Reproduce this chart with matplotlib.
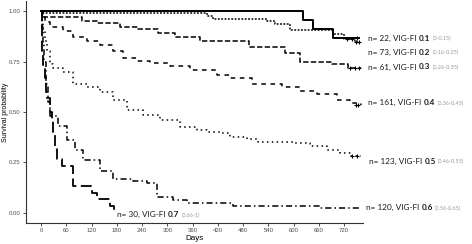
import matplotlib
matplotlib.use("Agg")
import matplotlib.pyplot as plt
from matplotlib.transforms import offset_copy

# ---- data ----
t_01 = [0, 623, 647, 694, 755]
s_01 = [1.0, 0.955, 0.91, 0.866, 0.866]

t_02 = [0, 5, 395, 408, 537, 556, 592, 694, 720, 745, 758]
s_02 = [1.0, 0.99, 0.975, 0.96, 0.95, 0.935, 0.905, 0.885, 0.86, 0.845, 0.845]

t_03 = [0, 4, 97, 133, 188, 230, 278, 318, 378, 495, 580, 615, 691, 730, 760]
s_03 = [1.0, 0.97, 0.95, 0.94, 0.92, 0.91, 0.89, 0.87, 0.85, 0.82, 0.79, 0.75, 0.74, 0.72, 0.72]

t_04 = [0, 3, 8, 21, 52, 76, 109, 140, 171, 195, 228, 259, 307, 354, 418, 449, 500, 573, 615,
        655, 703, 734, 760]
s_04 = [1.0, 0.97, 0.945, 0.92, 0.90, 0.87, 0.85, 0.83, 0.80, 0.77, 0.755, 0.745, 0.73, 0.71,
        0.685, 0.67, 0.64, 0.625, 0.605, 0.59, 0.56, 0.545, 0.535]

t_05 = [0, 2, 5, 9, 14, 21, 29, 52, 76, 109, 140, 171, 204, 243, 283, 330, 370, 394, 425, 449,
        489, 516, 604, 640, 680, 711, 734, 760]
s_05 = [1.0, 0.95, 0.9, 0.85, 0.8, 0.74, 0.72, 0.70, 0.64, 0.625, 0.60, 0.56, 0.51, 0.485, 0.46,
        0.425, 0.41, 0.40, 0.395, 0.376, 0.366, 0.35, 0.345, 0.33, 0.31, 0.295, 0.28, 0.28]

t_06 = [0, 2, 4, 7, 12, 17, 21, 40, 62, 80, 100, 140, 171, 218, 252, 276, 314, 347, 456, 663, 760]
s_06 = [1.0, 0.92, 0.84, 0.75, 0.64, 0.55, 0.48, 0.43, 0.36, 0.31, 0.26, 0.21, 0.17, 0.16,
        0.15, 0.08, 0.065, 0.05, 0.035, 0.025, 0.025]

t_07 = [0, 1, 2, 3, 5, 8, 11, 14, 21, 26, 29, 33, 38, 50, 76, 121, 133, 164, 172]
s_07 = [1.0, 0.933, 0.867, 0.80, 0.733, 0.667, 0.60, 0.567, 0.50, 0.467, 0.40, 0.333, 0.267,
        0.233, 0.133, 0.10, 0.067, 0.033, 0.0]

# censoring marks
cens_01_t, cens_01_s = [751], [0.866]
cens_02_t, cens_02_s = [728, 738, 748, 756], [0.86, 0.86, 0.845, 0.845]
cens_03_t, cens_03_s = [735, 745, 755], [0.72, 0.72, 0.72]
cens_04_t, cens_04_s = [748, 754], [0.535, 0.535]
cens_05_t, cens_05_s = [740, 750], [0.28, 0.28]

label_n = ["22", "73", "61", "161", "123", "120", "30"]
label_vig = ["0.1", "0.2", "0.3", "0.4", "0.5", "0.6", "0.7"]
label_rng = ["(0-0.15)", "(0.16-0.25)", "(0.26-0.35)", "(0.36-0.45)", "(0.46-0.55)",
             "(0.56-0.65)", "(0.66-1)"]
label_x = [778, 778, 778, 778, 780, 773, 181]
label_y = [0.866, 0.797, 0.723, 0.545, 0.255, 0.025, -0.01]

x_ticks = [0, 60, 120, 180, 240, 300, 360, 420, 480, 540, 600, 660, 720]
y_ticks = [0.00, 0.25, 0.50, 0.75, 1.00]

# ---- plot ----
fig = plt.figure(figsize=(4.72, 2.44), dpi=100)
ax = fig.add_axes([26 / 472, 1 - 223 / 244, (363 - 26) / 472, 222 / 244])

series = [
    (t_01, s_01, "-", 1.4),
    (t_02, s_02, (0, (1.2, 1.0)), 1.1),
    (t_03, s_03, (0, (3.5, 1.5)), 1.1),
    (t_04, s_04, (0, (3, 3)), 1.1),
    (t_05, s_05, (0, (1, 2.2)), 1.1),
    (t_06, s_06, (0, (4, 2, 1, 2)), 1.1),
    (t_07, s_07, (0, (6, 2.5)), 1.3),
]
for t, s, ls, lw in series:
    ax.step(t, s, where="post", color="black", linestyle=ls, linewidth=lw)

for ct, cs in [(cens_01_t, cens_01_s), (cens_02_t, cens_02_s), (cens_03_t, cens_03_s),
               (cens_04_t, cens_04_s), (cens_05_t, cens_05_s)]:
    ax.plot(ct, cs, linestyle="none", marker="+", markersize=3.5, color="black", mew=0.8)

ax.set_xlim(-36, 765)
ax.set_ylim(-0.05, 1.05)
ax.set_xticks(x_ticks)
ax.set_xticklabels([str(v) for v in x_ticks])
ax.set_yticks(y_ticks)
ax.set_yticklabels([f"{v:.2f}" for v in y_ticks])
for sp in ["top", "right"]:
    ax.spines[sp].set_visible(False)
for sp in ["left", "bottom"]:
    ax.spines[sp].set_linewidth(0.8)
    ax.spines[sp].set_color("#333333")
ax.tick_params(axis="both", labelsize=4.3, colors="#333333", length=2.2, width=0.6,
               labelcolor="#4D4D4D", pad=1.6)
for lab in ax.get_xticklabels() + ax.get_yticklabels():
    lab.set_family("Liberation Sans")
ax.set_xlabel("Days", fontsize=5.8, family="Liberation Sans", labelpad=1)
fig.text(5.5 / 472, 1 - 112 / 244, "Survival probability", rotation=90, ha="center",
         va="center", fontsize=5.0, family="Liberation Sans", color="black")

fig.canvas.draw()
renderer = fig.canvas.get_renderer()
for n, v, r, lx, ly in zip(label_n, label_vig, label_rng, label_x, label_y):
    t1 = ax.text(lx, ly, f"n= {n}, VIG-FI", fontsize=5.9, family="Lato", color="#1a1a1a",
                 va="center", ha="left", clip_on=False)
    w1 = t1.get_window_extent(renderer).width + 2.2
    tr2 = offset_copy(ax.transData, fig=fig, x=w1, y=0, units="dots")
    t2 = ax.text(lx, ly, v, fontsize=5.9, family="Lato", weight="bold", color="#1a1a1a",
                 va="center", ha="left", clip_on=False, transform=tr2)
    w2 = t2.get_window_extent(renderer).width
    tr3 = offset_copy(ax.transData, fig=fig, x=w1 + w2 + 2, y=-0.5, units="dots")
    ax.text(lx, ly, r, fontsize=4.0, family="Lato", color="#999999",
            va="center", ha="left", clip_on=False, transform=tr3)

fig.savefig("out.png", dpi=100)
